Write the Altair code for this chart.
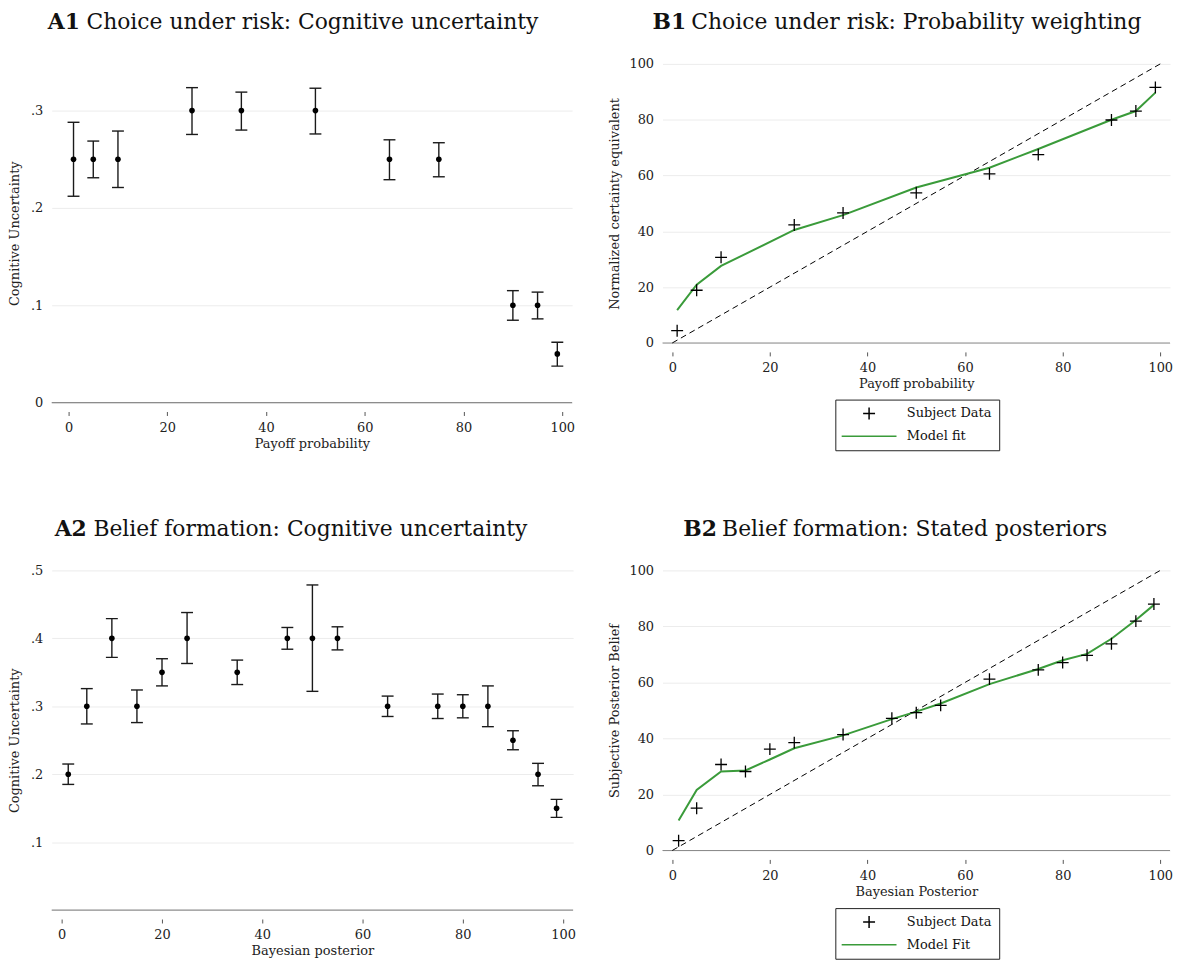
import altair as alt
import pandas as pd

# ---------------- data ----------------
A1_x = [1, 5, 10, 25, 35, 50, 65, 75, 90, 95, 99]
A1_mean = [0.25, 0.25, 0.25, 0.30, 0.30, 0.30, 0.25, 0.25, 0.10, 0.10, 0.05]
A1_lo = [0.212, 0.231, 0.221, 0.2755, 0.280, 0.276, 0.229, 0.232, 0.0846, 0.086, 0.0375]
A1_hi = [0.288, 0.2687, 0.279, 0.3236, 0.319, 0.323, 0.270, 0.267, 0.115, 0.1135, 0.062]

A2_x = [1.3, 5, 10, 15, 20, 25, 35, 45, 50, 55, 65, 75, 80, 85, 90, 95, 98.7]
A2_mean = [0.20, 0.30, 0.40, 0.30, 0.35, 0.40, 0.35, 0.40, 0.40, 0.40, 0.30, 0.30, 0.30, 0.30, 0.25, 0.20, 0.15]
A2_lo = [0.185, 0.274, 0.372, 0.276, 0.330, 0.363, 0.332, 0.384, 0.322, 0.383, 0.285, 0.282, 0.283, 0.270, 0.236, 0.183, 0.1365]
A2_hi = [0.215, 0.326, 0.429, 0.324, 0.370, 0.438, 0.368, 0.416, 0.4786, 0.417, 0.315, 0.318, 0.317, 0.330, 0.264, 0.216, 0.163]

B1_x = [1, 5, 10, 25, 35, 50, 65, 75, 90, 95, 99]
B1_data = [4.4, 18.9, 30.7, 42.3, 46.6, 53.8, 60.6, 67.5, 79.9, 83.1, 91.6]
B1_fit = [11.8, 20.9, 27.6, 40.5, 45.8, 55.7, 62.8, 69.5, 80.0, 83.1, 89.7]

B2_x = [1.3, 5, 10, 15, 20, 25, 35, 45, 50, 55, 65, 75, 80, 85, 90, 95, 98.7]
B2_data = [3.5, 15.1, 30.7, 28.2, 36.2, 38.5, 41.4, 47.2, 49.2, 51.8, 61.2, 64.5, 67.1, 69.7, 73.8, 81.9, 88.0]
B2_fit = [10.7, 21.6, 28.2, 28.6, 32.5, 36.5, 41.1, 46.9, 49.6, 52.5, 59.4, 64.8, 67.9, 70.2, 75.6, 82.3, 87.7]

DIAG = [0, 100]
X_TICKS = [0, 20, 40, 60, 80, 100]
A1_TICKS = [0, 0.1, 0.2, 0.3]
A2_TICKS = [0.1, 0.2, 0.3, 0.4, 0.5]
B_TICKS = [0, 20, 40, 60, 80, 100]

# ---------------- style ----------------
FONT = "DejaVu Serif"
GREEN = "#3a9b3a"
PLUS = "M-1,0L1,0M0,-1L0,1"
LINE = "M-4.6,0L4.6,0"
CU_LABEL = "datum.value == 0 ? '0' : replace(format(datum.value, '.1f'), '0.', '.')"
TITLE_SIZE = 22


def x_axis(title):
    return alt.Axis(title=title, values=X_TICKS, domain=False, grid=False, ticks=True,
                    tickSize=4, tickColor="#555", tickWidth=1, offset=9, labelPadding=6,
                    titlePadding=3, labelFlush=False, labelOverlap=False,
                    labelFont=FONT, labelFontSize=13, labelColor="#222",
                    titleFont=FONT, titleFontSize=13, titleFontWeight="normal", titleColor="#222")


def y_axis(title, values, title_pad, label_expr=None):
    kw = dict(title=title, values=values, domain=False, ticks=False, grid=True,
              gridColor="#ececec", gridWidth=1, labelPadding=9, titlePadding=title_pad,
              labelFont=FONT, labelFontSize=13, labelColor="#222", labelOverlap=False,
              titleFont=FONT, titleFontSize=13, titleFontWeight="normal", titleColor="#222")
    if label_expr:
        kw["labelExpr"] = label_expr
    else:
        kw["format"] = "d"
    return alt.Axis(**kw)


def title_layers(bold, rest, bx):
    b = alt.Chart(pd.DataFrame({"t": [bold]})).mark_text(
        align="left", baseline="middle", font=FONT, fontSize=TITLE_SIZE, fontWeight="bold", color="#111"
    ).encode(text="t:N", x=alt.value(bx), y=alt.value(-42))
    r = alt.Chart(pd.DataFrame({"t": [rest]})).mark_text(
        align="left", baseline="middle", font=FONT, fontSize=TITLE_SIZE, fontWeight="normal", color="#111"
    ).encode(text="t:N", x=alt.value(bx + 39), y=alt.value(-42))
    return b, r


def err_panel(xs, ms, los, his, xtitle, ytitle, xdom, ydom, yvals, tpad, w, h, bold, rest, bx):
    df = pd.DataFrame({"x": xs, "m": ms, "lo": los, "hi": his})
    xsc = alt.Scale(domain=xdom, nice=False, zero=False)
    ysc = alt.Scale(domain=ydom, nice=False, zero=False)
    xa = x_axis(xtitle)
    ya = y_axis(ytitle, yvals, tpad, CU_LABEL)

    def X():
        return alt.X("x:Q", scale=xsc, axis=xa)

    def Y(f):
        return alt.Y(f, scale=ysc, axis=ya)

    base = alt.Chart(df)
    bars = base.mark_rule(color="#1a1a1a", strokeWidth=1.4).encode(x=X(), y=Y("lo:Q"), y2="hi:Q")
    cap_lo = base.mark_tick(orient="horizontal", size=12, thickness=1.4, color="#1a1a1a", opacity=1).encode(x=X(), y=Y("lo:Q"))
    cap_hi = base.mark_tick(orient="horizontal", size=12, thickness=1.4, color="#1a1a1a", opacity=1).encode(x=X(), y=Y("hi:Q"))
    pts = base.mark_circle(size=32, color="#000", opacity=1).encode(x=X(), y=Y("m:Q"))
    baseline = alt.Chart(pd.DataFrame({"b": [ydom[0]]})).mark_rule(color="#8c8c8c", strokeWidth=1.2).encode(y=Y("b:Q"))
    tb, tr = title_layers(bold, rest, bx)
    return alt.layer(baseline, bars, cap_lo, cap_hi, pts, tb, tr).properties(width=w, height=h)


def fit_panel(xs, data, fit, xtitle, ytitle, fitname, w, h, bold, rest, bx, legy):
    names = ["Subject Data", fitname]
    df_d = pd.DataFrame({"x": xs, "v": data, "s": names[0]})
    df_f = pd.DataFrame({"x": xs, "v": fit, "s": names[1]})
    df_g = pd.DataFrame({"x": DIAG, "v": DIAG})
    df_b = pd.DataFrame({"v": [0]})
    xsc = alt.Scale(domain=[-2, 102], nice=False, zero=False)
    ysc = alt.Scale(domain=[0, 100], nice=False, zero=False)
    xa = x_axis(xtitle)
    ya = y_axis(ytitle, B_TICKS, 7)
    leg = alt.Legend(title=None, orient="none", legendX=174, legendY=legy, direction="vertical",
                     padding=7, strokeColor="#222", fillColor="white",
                     labelFont=FONT, labelFontSize=13, labelColor="#111",
                     symbolSize=144, symbolOffset=20, labelOffset=31, rowPadding=7,
                     symbolStrokeWidth=1.5, symbolOpacity=1)
    csc = alt.Scale(domain=names, range=["#000000", GREEN])
    ssc = alt.Scale(domain=names, range=[PLUS, LINE])

    def X():
        return alt.X("x:Q", scale=xsc, axis=xa)

    def Y():
        return alt.Y("v:Q", scale=ysc, axis=ya)

    baseline = alt.Chart(df_b).mark_rule(color="#8c8c8c", strokeWidth=1.2).encode(y=Y())
    diag = alt.Chart(df_g).mark_line(color="#000", strokeWidth=1, strokeDash=[6, 4]).encode(x=X(), y=Y())
    line = alt.Chart(df_f).mark_line(strokeWidth=2).encode(
        x=X(), y=Y(), color=alt.Color("s:N", scale=csc, legend=leg))
    pts = alt.Chart(df_d).mark_point(filled=False, size=144, strokeWidth=1.3, opacity=1).encode(
        x=X(), y=Y(), color=alt.Color("s:N", scale=csc, legend=leg),
        shape=alt.Shape("s:N", scale=ssc, legend=leg))
    tb, tr = title_layers(bold, rest, bx)
    return alt.layer(baseline, diag, line, pts, tb, tr).properties(width=w, height=h)


A1 = err_panel(A1_x, A1_mean, A1_lo, A1_hi, "Payoff probability", "Cognitive Uncertainty",
               [-3.42, 102], [0, 0.348], A1_TICKS, 8.6, 524, 341,
               "A1", "Choice under risk: Cognitive uncertainty", -4)
B1 = fit_panel(B1_x, B1_data, B1_fit, "Payoff probability", "Normalized certainty equivalent",
               "Model fit", 511, 281, "B1", "Choice under risk: Probability weighting", -10, 338)
A2 = err_panel(A2_x, A2_mean, A2_lo, A2_hi, "Bayesian posterior", "Cognitive Uncertainty",
               [-2, 102], [0, 0.5], A2_TICKS, 8.6, 525, 342,
               "A2", "Belief formation: Cognitive uncertainty", 3)
B2 = fit_panel(B2_x, B2_data, B2_fit, "Bayesian Posterior", "Subjective Posterior Belief",
               "Model Fit", 511, 282, "B2", "Belief formation: Stated posteriors", 21, 340)

IND = dict(color="independent", shape="independent")
row1 = alt.hconcat(A1, B1, spacing=34).resolve_scale(**IND).resolve_legend(**IND)
row2 = alt.hconcat(A2, B2, spacing=33).resolve_scale(**IND).resolve_legend(**IND)

chart = alt.vconcat(row1, row2, spacing=67).resolve_scale(**IND).resolve_legend(**IND).properties(
    padding=0, background="white"
).configure_view(stroke=None)

chart.save("out.html", embed_options={"renderer": "svg", "actions": False})
